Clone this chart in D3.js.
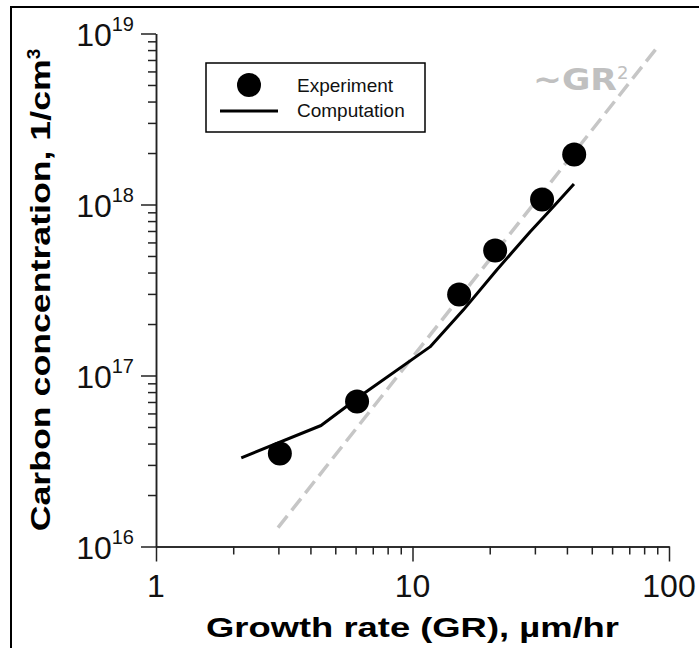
<!DOCTYPE html>
<html>
<head>
<meta charset="utf-8">
<script src="https://cdn.jsdelivr.net/npm/d3@7"></script>
<style>
  body { margin: 0; background: #fff; }
  svg { display: block; font-family: "Liberation Sans", Arial, sans-serif; }
</style>
</head>
<body>
<svg width="699" height="648"></svg>
<script>
// measured points (growth rate, um/hr ; carbon, 1/cm3)
let expGR = [3.04, 6.08, 15.2, 21, 32, 42.7];
let expC = [3.5e16, 7.05e16, 2.98e17, 5.38e17, 1.07e18, 1.96e18];

// computed curve
let compGR = [2.15, 4.4, 6.5, 11.7, 15.8, 21.3, 28.7, 35.4, 42.6];
let compC = [3.3e16, 5.1e16, 7.9e16, 1.47e17, 2.42e17, 4.14e17, 6.9e17, 9.7e17, 1.32e18];

// ~GR^2 guide line end points
let trendGR = [2.99, 90.6];
let trendC = [1.29e16, 8.4e18];

let xMajor = [1, 10, 100];
let yMajor = [1e16, 1e17, 1e18, 1e19];
let legendLabels = ['Experiment', 'Computation'];

let svg = d3.select('svg');

// frame
svg.append('rect')
  .attr('x', 11).attr('y', 7)
  .attr('width', 720).attr('height', 700)
  .attr('fill', 'none')
  .attr('stroke', '#000')
  .attr('stroke-width', 2);

let x = d3.scaleLog().domain([1, 100]).range([156, 669]);
let y = d3.scaleLog().domain([1e16, 1e19]).range([546.5, 33.5]);

let xMinor = x.ticks().filter(function(d) { return xMajor.indexOf(d) < 0; });
let yMinor = y.ticks().filter(function(d) { return yMajor.indexOf(d) < 0; });

function styleAxis(g) {
  g.selectAll('path, line').attr('stroke', '#222').attr('stroke-width', 1.5);
  g.selectAll('text').remove();
}

// x axis
svg.append('g')
  .attr('transform', 'translate(0,' + y(1e16) + ')')
  .call(d3.axisBottom(x).tickValues(xMinor).tickSize(8).tickSizeOuter(0))
  .call(styleAxis);
svg.append('g')
  .attr('transform', 'translate(0,' + y(1e16) + ')')
  .call(d3.axisBottom(x).tickValues(xMajor).tickSize(15).tickSizeOuter(0))
  .call(styleAxis);

// y axis
svg.append('g')
  .attr('transform', 'translate(' + x(1) + ',0)')
  .call(d3.axisLeft(y).tickValues(yMinor).tickSize(8).tickSizeOuter(0))
  .call(styleAxis);
svg.append('g')
  .attr('transform', 'translate(' + x(1) + ',0)')
  .call(d3.axisLeft(y).tickValues(yMajor).tickSize(15).tickSizeOuter(0))
  .call(styleAxis);

// tick labels
svg.append('g')
  .selectAll('text')
  .data(xMajor)
  .enter().append('text')
  .attr('x', function(d) { return x(d); })
  .attr('y', 597)
  .attr('text-anchor', 'middle')
  .attr('font-size', 32)
  .attr('fill', '#111')
  .text(function(d) { return d; });

let yLab = svg.append('g')
  .selectAll('text')
  .data(yMajor)
  .enter().append('text')
  .attr('x', 134)
  .attr('y', function(d) { return y(d) + 12; })
  .attr('text-anchor', 'end')
  .attr('font-size', 32)
  .attr('fill', '#111');
yLab.append('tspan').text('10');
yLab.append('tspan')
  .attr('font-size', 20)
  .attr('dy', -15)
  .text(function(d) { return Math.round(Math.log10(d)); });

// axis titles (the original lettering is stretched wide)
svg.append('text')
  .attr('x', x(10))
  .attr('y', 637)
  .attr('text-anchor', 'middle')
  .attr('font-size', 28)
  .attr('font-weight', 'bold')
  .attr('textLength', 413)
  .attr('lengthAdjust', 'spacingAndGlyphs')
  .text('Growth rate (GR), µm/hr');

let yTitle = svg.append('text')
  .attr('transform', 'translate(50,' + ((y(1e16) + y(1e19)) / 2) + ')rotate(-90)')
  .attr('text-anchor', 'middle')
  .attr('font-size', 28)
  .attr('font-weight', 'bold');
yTitle.append('tspan')
  .attr('textLength', 472)
  .attr('lengthAdjust', 'spacingAndGlyphs')
  .text('Carbon concentration, 1/cm');
yTitle.append('tspan').attr('font-size', 19).attr('dy', -10).text('3');

// ~GR^2 guide
let trend = trendGR.map(function(d, i) { return [d, trendC[i]]; });
svg.append('path')
  .datum(trend)
  .attr('fill', 'none')
  .attr('stroke', '#c6c6c6')
  .attr('stroke-width', 3.5)
  .attr('stroke-dasharray', '15 7')
  .attr('d', d3.line()
    .x(function(d) { return x(d[0]); })
    .y(function(d) { return y(d[1]); }));

let gr2 = svg.append('text')
  .attr('x', 533)
  .attr('y', 90)
  .attr('fill', '#c0c0c0')
  .attr('font-family', '"DejaVu Sans", sans-serif')
  .attr('font-weight', 'bold')
  .attr('font-size', 30);
gr2.append('tspan')
  .attr('textLength', 84)
  .attr('lengthAdjust', 'spacingAndGlyphs')
  .text('~GR');
gr2.append('tspan').attr('font-size', 18).attr('dy', -11).attr('font-weight', 'normal').text('2');

// computation curve
let comp = compGR.map(function(d, i) { return [d, compC[i]]; });
svg.append('path')
  .datum(comp)
  .attr('fill', 'none')
  .attr('stroke', '#000')
  .attr('stroke-width', 3)
  .attr('stroke-linejoin', 'round')
  .attr('d', d3.line()
    .x(function(d) { return x(d[0]); })
    .y(function(d) { return y(d[1]); }));

// experiment points
let exp = expGR.map(function(d, i) { return [d, expC[i]]; });
svg.append('g')
  .selectAll('circle')
  .data(exp)
  .enter().append('circle')
  .attr('cx', function(d) { return x(d[0]); })
  .attr('cy', function(d) { return y(d[1]); })
  .attr('r', 12)
  .attr('fill', '#000');

// legend
let legend = svg.append('g');
legend.append('rect')
  .attr('x', 206).attr('y', 63)
  .attr('width', 219).attr('height', 69)
  .attr('fill', '#fff')
  .attr('stroke', '#000')
  .attr('stroke-width', 1.5);
legend.append('circle')
  .attr('cx', 249).attr('cy', 85).attr('r', 12)
  .attr('fill', '#000');
legend.append('line')
  .attr('x1', 220).attr('x2', 278)
  .attr('y1', 111).attr('y2', 111)
  .attr('stroke', '#000')
  .attr('stroke-width', 3);
legend.selectAll('text')
  .data(legendLabels)
  .enter().append('text')
  .attr('x', 297)
  .attr('y', function(d, i) { return 92 + i * 25; })
  .attr('font-size', 19)
  .attr('fill', '#111')
  .text(function(d) { return d; });
</script>
</body>
</html>
